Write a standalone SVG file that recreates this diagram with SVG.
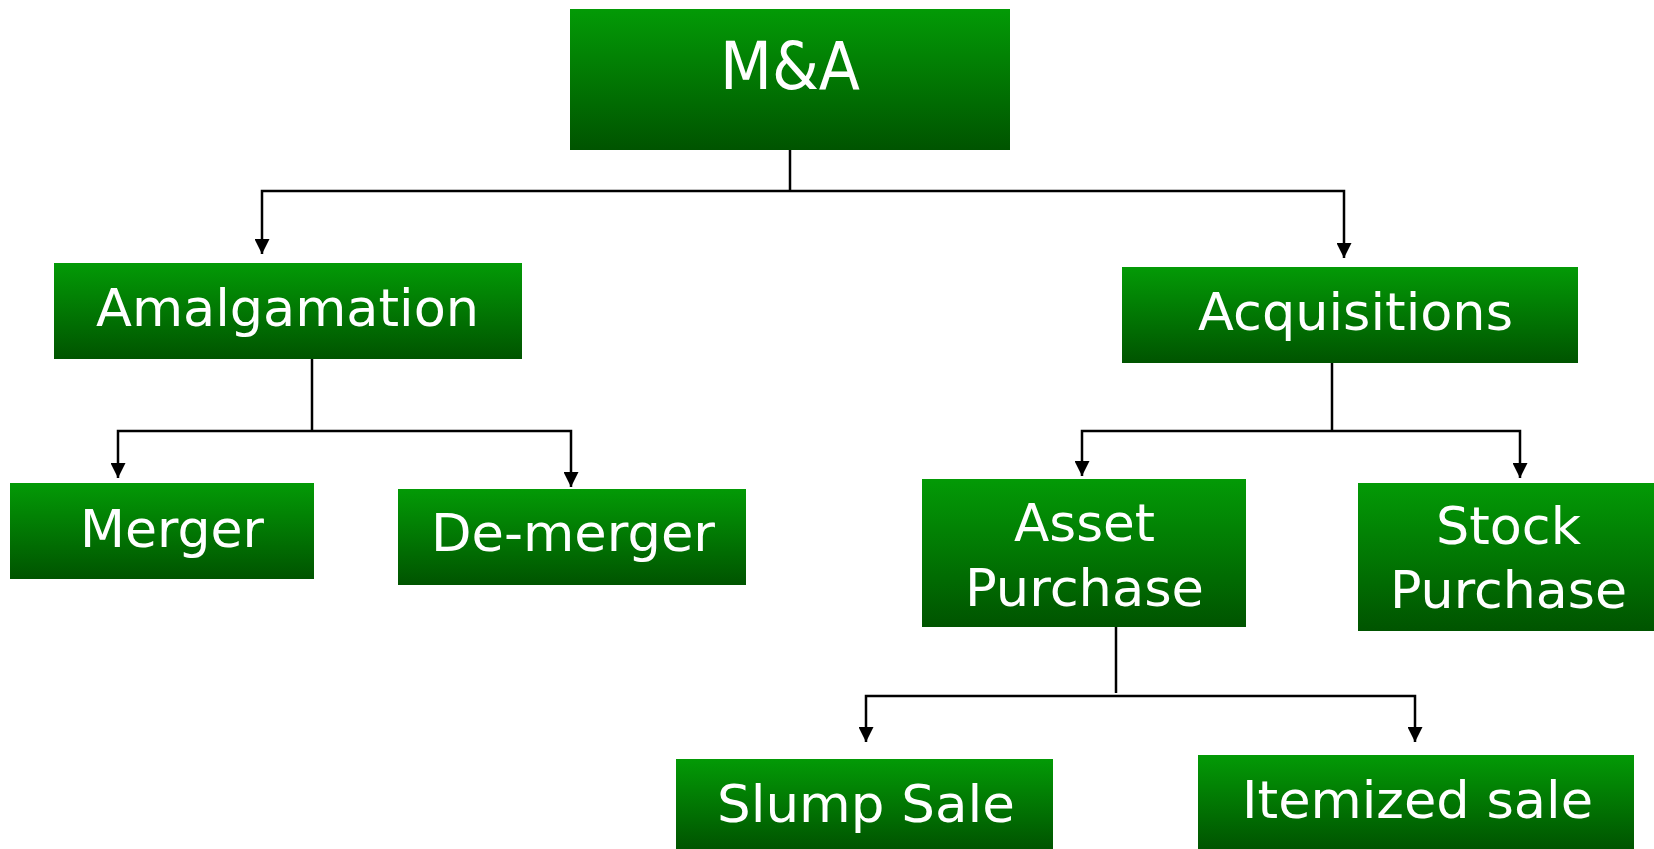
<svg xmlns="http://www.w3.org/2000/svg" width="1654" height="849" viewBox="0 0 1654 849">
<defs>
<linearGradient id="g" x1="0" y1="0" x2="0" y2="1">
<stop offset="0" stop-color="#039a06"/>
<stop offset="1" stop-color="#005400"/>
</linearGradient>
<marker id="arr" markerUnits="userSpaceOnUse" markerWidth="15" markerHeight="15" refX="15" refY="7.5" orient="auto" viewBox="0 0 15 15">
<path d="M0,0 L15,7.5 L0,15 z" fill="#000"/>
</marker>
</defs>
<style>
.box{fill:url(#g)}
.t{font-family:"DejaVu Sans",Verdana,sans-serif;font-size:51px;fill:#fff;text-anchor:middle}
.c{fill:none;stroke:#000;stroke-width:2.5}
.a{marker-end:url(#arr)}
</style>
<rect width="1654" height="849" fill="#fff"/>
<g id="connectors">
<path class="c" d="M790,149 V191"/>
<path class="c a" d="M790,191 H262 V254"/>
<path class="c a" d="M790,191 H1344 V258"/>
<path class="c" d="M312,359 V431"/>
<path class="c a" d="M312,431 H118 V478"/>
<path class="c a" d="M312,431 H571 V487"/>
<path class="c" d="M1332,363 V431"/>
<path class="c a" d="M1332,431 H1082 V476"/>
<path class="c a" d="M1332,431 H1520 V478"/>
<path class="c" d="M1116,627 V693"/>
<path class="c a" d="M1116,696 H866 V742"/>
<path class="c a" d="M1116,696 H1415 V742"/>
</g>
<g id="ma">
<rect class="box" x="570" y="9" width="440" height="141"/>
<text class="t" x="790" y="89" style="font-size:66px" textLength="140" lengthAdjust="spacingAndGlyphs">M&amp;A</text>
</g>
<g id="amalgamation">
<rect class="box" x="54" y="263" width="468" height="96"/>
<text class="t" x="287.5" y="326" textLength="383" lengthAdjust="spacingAndGlyphs">Amalgamation</text>
</g>
<g id="acquisitions">
<rect class="box" x="1122" y="267" width="456" height="96"/>
<text class="t" x="1355.5" y="330" textLength="315" lengthAdjust="spacingAndGlyphs">Acquisitions</text>
</g>
<g id="merger">
<rect class="box" x="10" y="483" width="304" height="96"/>
<text class="t" x="172" y="547" textLength="184" lengthAdjust="spacingAndGlyphs">Merger</text>
</g>
<g id="demerger">
<rect class="box" x="398" y="489" width="348" height="96"/>
<text class="t" x="573" y="551" textLength="284" lengthAdjust="spacingAndGlyphs">De-merger</text>
</g>
<g id="asset-purchase">
<rect class="box" x="922" y="479" width="324" height="148"/>
<text class="t" x="1084.5" y="541" textLength="141" lengthAdjust="spacingAndGlyphs">Asset</text>
<text class="t" x="1084.5" y="606" textLength="239" lengthAdjust="spacingAndGlyphs">Purchase</text>
</g>
<g id="stock-purchase">
<rect class="box" x="1358" y="483" width="296" height="148"/>
<text class="t" x="1508.5" y="544" textLength="145" lengthAdjust="spacingAndGlyphs">Stock</text>
<text class="t" x="1508.5" y="608" textLength="237" lengthAdjust="spacingAndGlyphs">Purchase</text>
</g>
<g id="slump-sale">
<rect class="box" x="676" y="759" width="377" height="90"/>
<text class="t" x="866" y="822" textLength="298" lengthAdjust="spacingAndGlyphs">Slump Sale</text>
</g>
<g id="itemized-sale">
<rect class="box" x="1198" y="755" width="436" height="94"/>
<text class="t" x="1417.5" y="818" textLength="351" lengthAdjust="spacingAndGlyphs">Itemized sale</text>
</g>
</svg>
